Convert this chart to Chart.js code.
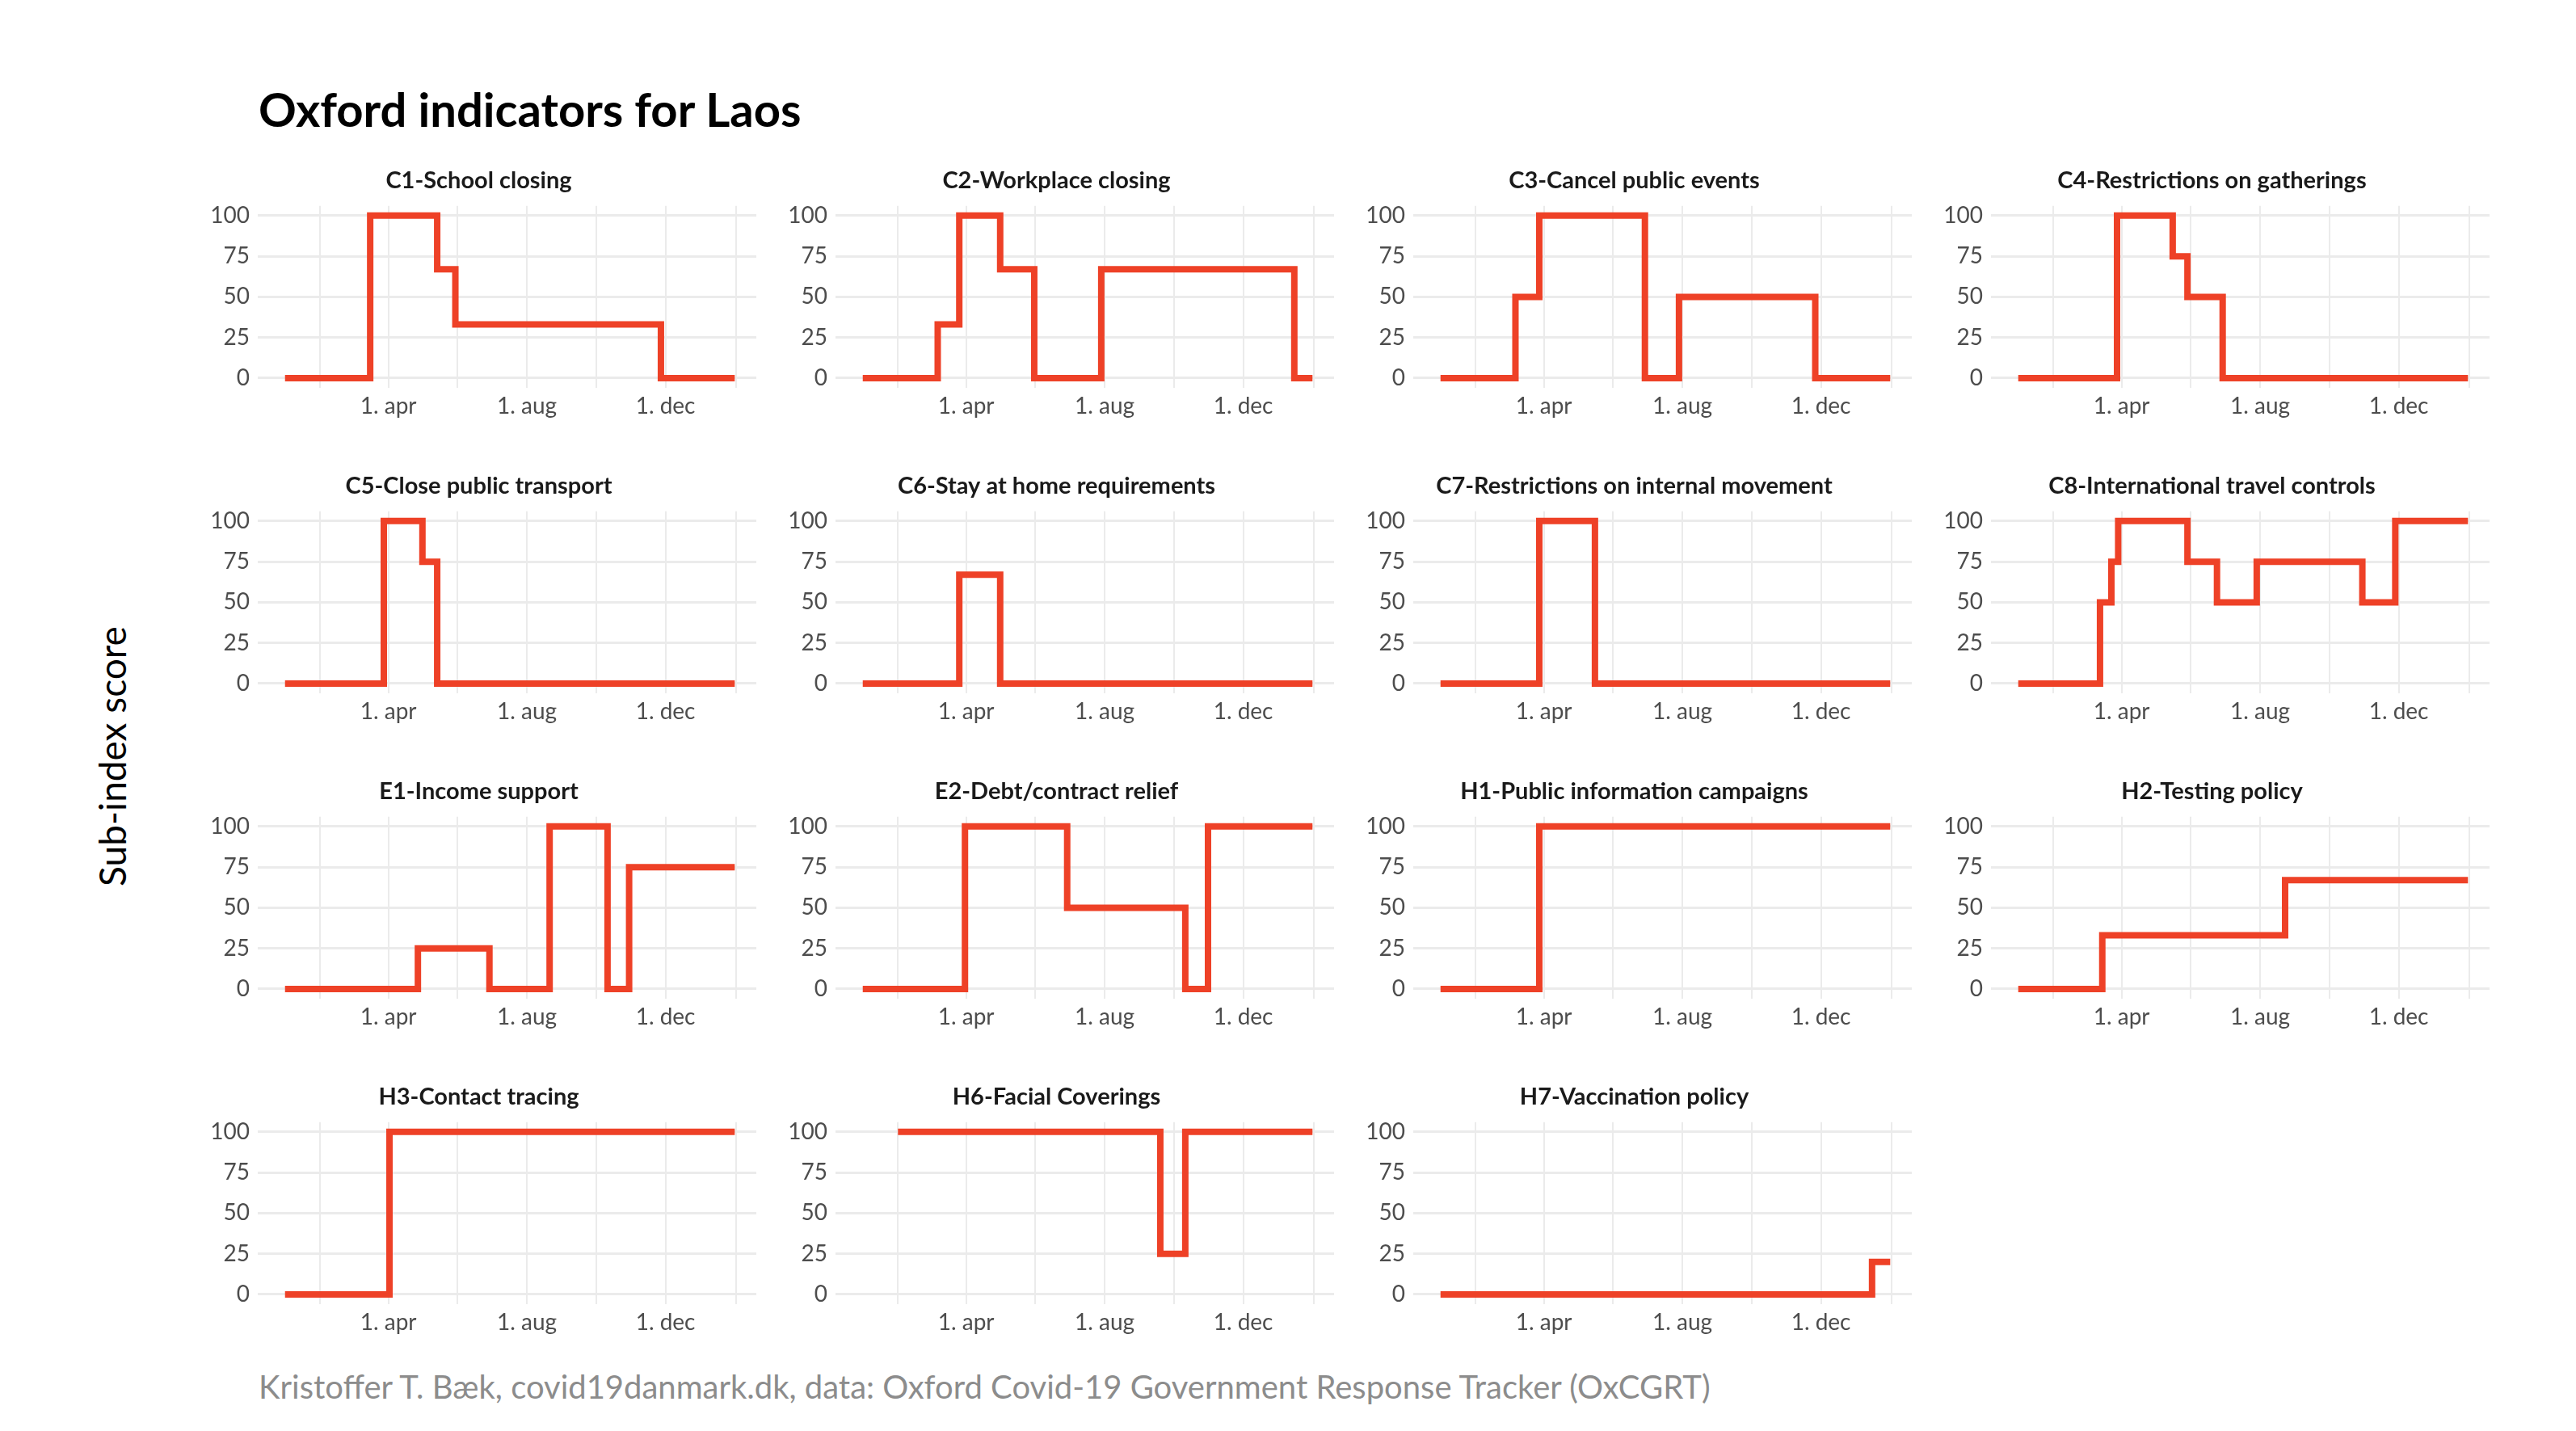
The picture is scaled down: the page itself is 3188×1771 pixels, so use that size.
<!DOCTYPE html>
<html>
<head>
<meta charset="utf-8">
<script src="https://cdn.jsdelivr.net/npm/chart.js@4"></script>
<style>
  body { margin: 0; background: #fff; width: 3188px; height: 1771px; position: relative; overflow: hidden; font-family: Lato, sans-serif; }
  #title { position: absolute; left: 320px; top: 100px; font-size: 58px; font-weight: bold; color: #000; }
  #ylab { position: absolute; left: 138px; top: 936px; font-size: 46px; color: #000; transform: translate(-50%, -50%) rotate(-90deg); white-space: nowrap; }
  #caption { position: absolute; left: 320px; top: 1692px; font-size: 40px; color: #8c8c8c; }
  canvas { position: absolute; }
</style>
</head>
<body>
<div id="title">Oxford indicators for Laos</div>
<div id="ylab">Sub-index score</div>
<div id="caption">Kristoffer T. Bæk, covid19danmark.dk, data: Oxford Covid-19 Government Response Tracker (OxCGRT)</div>
<script>
'use strict';

// *************** DATA (days since 1 Jan 2020, value from that day on)
let panelNames = ['C1-School closing', 'C2-Workplace closing', 'C3-Cancel public events', 'C4-Restrictions on gatherings',
  'C5-Close public transport', 'C6-Stay at home requirements', 'C7-Restrictions on internal movement', 'C8-International travel controls',
  'E1-Income support', 'E2-Debt/contract relief', 'H1-Public information campaigns', 'H2-Testing policy',
  'H3-Contact tracing', 'H6-Facial Coverings', 'H7-Vaccination policy'];

let stepDays = [
  [0, 75, 134, 150, 331, 396],
  [0, 66, 85, 121, 151, 210, 380, 396],
  [0, 66, 87, 180, 210, 330, 396],
  [0, 87, 136, 149, 180, 396],
  [0, 87, 121, 134, 396],
  [0, 85, 121, 396],
  [0, 87, 136, 396],
  [0, 72, 82, 88, 149, 175, 210, 303, 332, 396],
  [0, 117, 180, 233, 284, 303, 396],
  [0, 90, 180, 284, 304, 396],
  [0, 87, 396],
  [0, 74, 235, 396],
  [0, 92, 396],
  [31, 262, 284, 396],
  [0, 380, 396]
];

let stepValues = [
  [0, 100, 67, 33, 0, 0],
  [0, 33, 100, 67, 0, 67, 0, 0],
  [0, 50, 100, 0, 50, 0, 0],
  [0, 100, 75, 50, 0, 0],
  [0, 100, 75, 0, 0],
  [0, 67, 0, 0],
  [0, 100, 0, 0],
  [0, 50, 75, 100, 75, 50, 75, 50, 100, 100],
  [0, 25, 0, 100, 0, 75, 75],
  [0, 100, 50, 0, 100, 100],
  [0, 100, 100],
  [0, 33, 67, 67],
  [0, 100, 100],
  [100, 25, 100, 100],
  [0, 20, 20]
];

let yTicks = [0, 25, 50, 75, 100];
let xGridDays = [31, 91, 152, 213, 274, 335, 397];
let xLabels = { 91: '1. apr', 213: '1. aug', 335: '1. dec' };

// *************** LAYOUT
let plotLeft0 = 319, colPitch = 715, plotTop0 = 255, rowPitch = 378;
let plotW = 617, plotH = 225, yAxisW = 70, xAxisH = 60, titleH = 49;

function makePanel(i) {
  let col = i % 4;
  let row = Math.floor(i / 4);
  let cv = document.createElement('canvas');
  let w = yAxisW + plotW, h = titleH + plotH + xAxisH;
  cv.width = w; cv.height = h;
  cv.style.left = (plotLeft0 + colPitch * col - yAxisW) + 'px';
  cv.style.top = (plotTop0 + rowPitch * row - titleH) + 'px';
  cv.style.width = w + 'px'; cv.style.height = h + 'px';
  document.body.appendChild(cv);

  let pts = [];
  for (let k = 0; k < stepDays[i].length; k++) {
    pts.push({ x: stepDays[i][k], y: stepValues[i][k] });
  }

  new Chart(cv, { // eslint-disable-line
    type: 'line',
    data: {
      datasets: [{
        data: pts,
        stepped: 'before',
        borderColor: '#ee4127',
        borderWidth: 8,
        pointRadius: 0,
        fill: false
      }]
    },
    options: {
      responsive: false,
      devicePixelRatio: 1,
      animation: false,
      layout: { padding: 0 },
      plugins: {
        legend: { display: false },
        tooltip: { enabled: false },
        title: {
          display: true,
          text: panelNames[i],
          color: '#1a1a1a',
          font: { family: 'Lato', size: 29, weight: 'bold' },
          padding: { top: 0, bottom: 14 }
        }
      },
      scales: {
        x: {
          type: 'linear',
          min: -24, max: 415,
          afterBuildTicks: (s) => { s.ticks = xGridDays.map(v => ({ value: v })); },
          afterFit: (s) => { s.height = xAxisH; },
          ticks: {
            autoSkip: false, maxRotation: 0,
            color: '#4d4d4d', font: { family: 'Lato', size: 28 }, padding: 6,
            callback: (v) => xLabels[v] || ''
          },
          grid: { color: '#ebebeb', lineWidth: 2, drawTicks: false },
          border: { display: false }
        },
        y: {
          min: -6, max: 106,
          afterBuildTicks: (s) => { s.ticks = yTicks.map(v => ({ value: v })); },
          afterFit: (s) => { s.width = yAxisW; },
          ticks: { color: '#4d4d4d', font: { family: 'Lato', size: 28 }, padding: 10 },
          grid: { color: '#ebebeb', lineWidth: 3, drawTicks: false },
          border: { display: false }
        }
      }
    }
  });
}

for (let i = 0; i < panelNames.length; i++) {
  makePanel(i);
}
</script>
</body>
</html>
